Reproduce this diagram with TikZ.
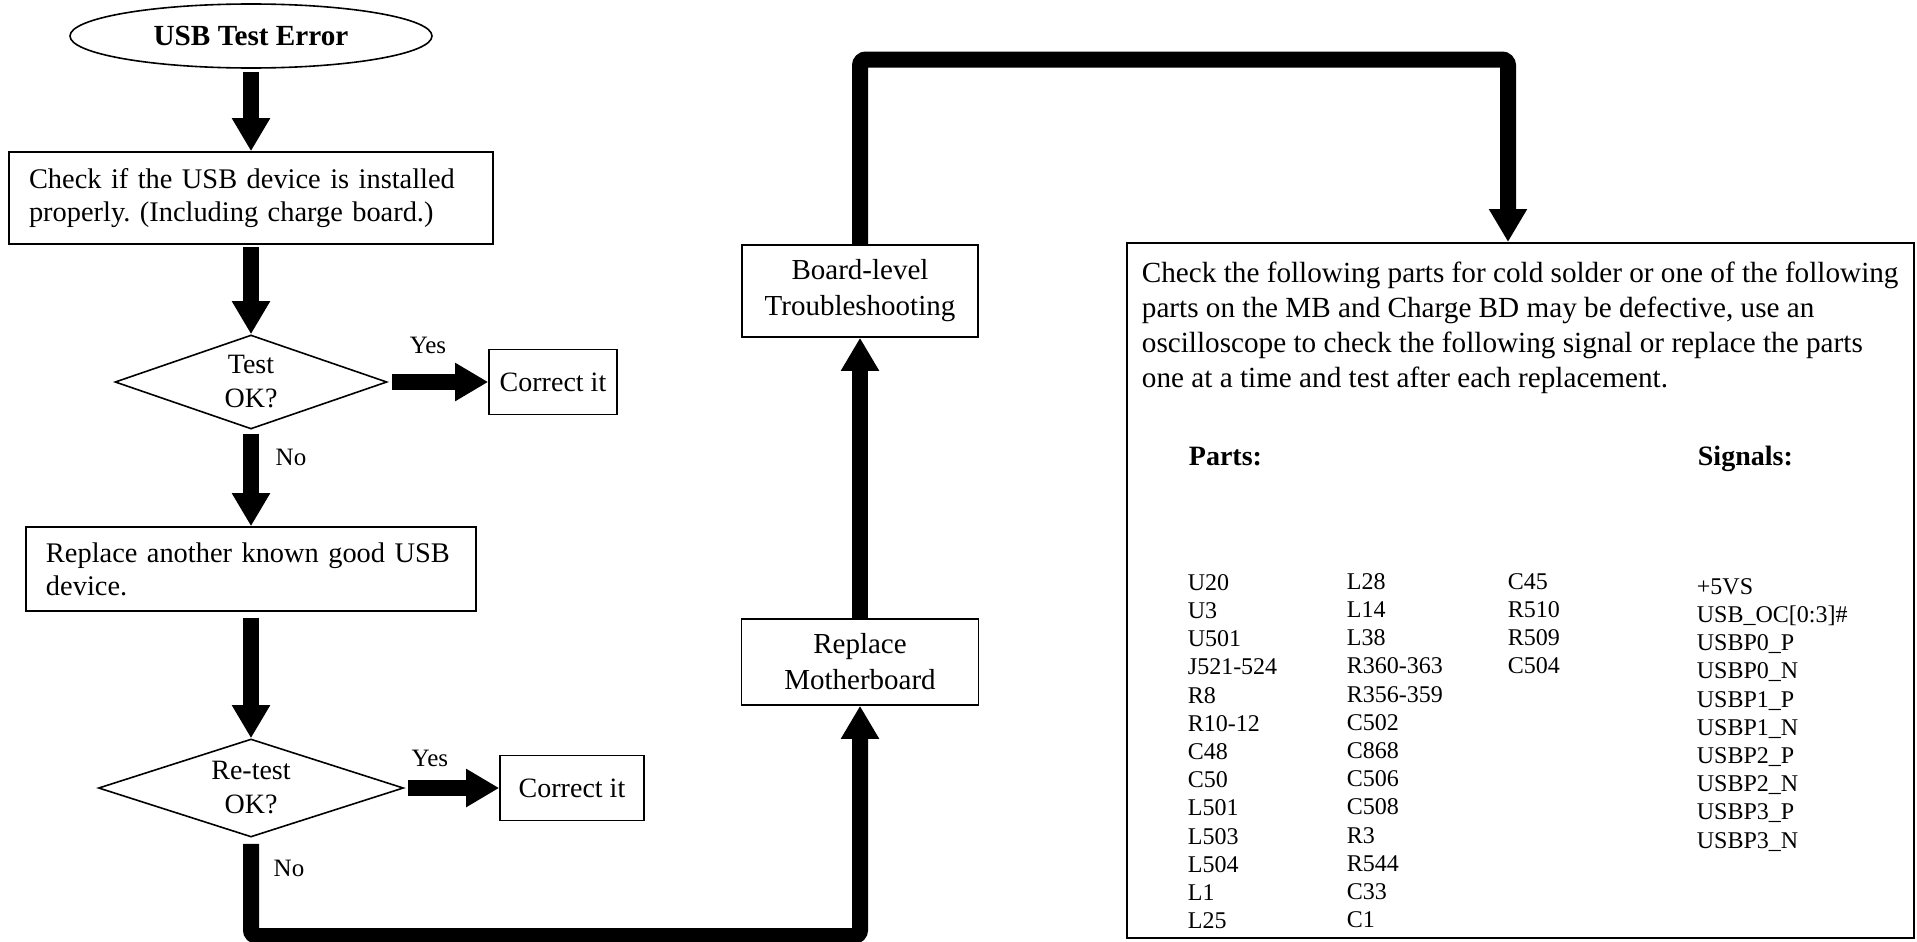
\documentclass[tikz,border=0pt]{standalone}
\usepackage{fontspec}
\setmainfont{Liberation Serif}
\usetikzlibrary{arrows.meta, positioning, shapes.geometric}
\frenchspacing

\begin{document}
\begin{tikzpicture}[
  node distance=80pt,
  box/.style={rectangle, draw, line width=0.8pt, inner sep=0pt, align=center,
    font=\fontsize{14.5}{18}\selectfont},
  note/.style={box, inner xsep=10pt, align=left, font=\fontsize{14.2}{16.5}\selectfont},
  decision/.style={diamond, draw, line width=0.8pt, inner sep=0pt, aspect=3, align=center,
    font=\fontsize{14}{17}\selectfont},
  term/.style={ellipse, draw, line width=0.8pt, inner sep=0pt,
    font=\bfseries\fontsize{14.6}{17}\selectfont},
  flow/.style={-{Triangle[width=18pt,length=16.5pt]}, line width=8pt},
  tag/.style={font=\fontsize{12.5}{15}\selectfont},
  head/.style={inner sep=0pt, font=\bfseries\fontsize{14}{17}\selectfont},
  list/.style={inner sep=0pt, align=left, font=\fontsize{12}{14.1}\selectfont}
]
  \useasboundingbox (0,0) rectangle (958.5pt,-471pt);

  % left column
  \node[term, minimum width=181pt, minimum height=32pt] (start) at (125.5pt,-18pt) {USB Test Error};
  \node[note, below of=start, node distance=81pt, text width=222pt, minimum height=46pt] (check)
    {Check if the USB device is installed\\properly. (Including charge board.)};
  \node[decision, below of=check, node distance=92pt, minimum width=136pt, minimum height=47pt] (test) {Test\\OK?};
  \node[box, right of=test, node distance=151pt, minimum width=64pt, minimum height=32.5pt,
    font=\fontsize{14}{17}\selectfont] (fix1) {Correct it};
  \node[note, below of=test, node distance=93.5pt, text width=205pt, minimum height=42pt] (other)
    {Replace another known good USB\\device.};
  \node[decision, below of=other, node distance=109.5pt, minimum width=152.5pt, minimum height=49pt] (retest) {Re-test\\OK?};
  \node[box, right of=retest, node distance=160.5pt, minimum width=72pt, minimum height=32.5pt,
    font=\fontsize{14}{17}\selectfont] (fix2) {Correct it};

  % middle column
  \node[box, right of=fix2, node distance=144pt, yshift=63pt, minimum width=118.5pt, minimum height=43pt] (mb)
    {Replace\\Motherboard};
  \node[box, above of=mb, node distance=185.5pt, minimum width=118pt, minimum height=46pt] (board)
    {Board-level\\Troubleshooting};

  % parts box
  \node[box, line width=1pt, right of=board, node distance=330pt, yshift=-149.75pt,
    minimum width=393.5pt, minimum height=347.5pt] (parts) {};
  \node[inner sep=0pt, align=left, font=\fontsize{14.6}{17.5}\selectfont,
    below right=9.8pt and 8pt of parts.north west] (intro)
    {Check the following parts for cold solder or one of the following\\
     parts on the MB and Charge BD may be defective, use an\\
     oscilloscope to check the following signal or replace the parts\\
     one at a time and test after each replacement.};
  \node[head, below right=102.3pt and 31.5pt of parts.north west] (parthead) {Parts:};
  \node[head, below right=102pt and 286pt of parts.north west] (sighead) {Signals:};
  \node[list, below right=166pt and 31pt of parts.north west] (colA)
    {U20\\U3\\U501\\J521-524\\R8\\R10-12\\C48\\C50\\L501\\L503\\L504\\L1\\L25};
  \node[list, below right=165.5pt and 110.5pt of parts.north west] (colB)
    {L28\\L14\\L38\\R360-363\\R356-359\\C502\\C868\\C506\\C508\\R3\\R544\\C33\\C1};
  \node[list, below right=165.5pt and 191pt of parts.north west] (colC)
    {C45\\R510\\R509\\C504};
  \node[list, below right=168pt and 285.5pt of parts.north west] (siglist)
    {+5VS\\USB\_OC[0:3]\#\\USBP0\_P\\USBP0\_N\\USBP1\_P\\USBP1\_N\\USBP2\_P\\USBP2\_N\\USBP3\_P\\USBP3\_N};

  % connectors
  \draw[flow, shorten <=1.5pt] (start) -- (check);
  \draw[flow, shorten <=1pt] (check) -- (test);
  \draw[flow, shorten <=2pt] (test) -- node[tag, pos=0.4, yshift=18.5pt] {Yes} (fix1);
  \draw[flow, shorten <=2pt] (test) -- node[tag, pos=0.29, xshift=20pt] {No} (other);
  \draw[flow, shorten <=3pt] (other) -- (retest);
  \draw[flow, shorten <=2pt] (retest) -- node[tag, pos=0.27, yshift=15pt] {Yes} (fix2);
  \draw[flow, rounded corners=3pt, shorten <=3pt] (retest)
    -- node[tag, pos=0.31, xshift=19pt] {No} ++(0,-74pt) -| (mb);
  \draw[flow] (mb) -- (board);
  \draw[flow, rounded corners=3pt] (board) -- ++(0,115.75pt) -| ([xshift=-6pt]parts.north);
\end{tikzpicture}
\end{document}
